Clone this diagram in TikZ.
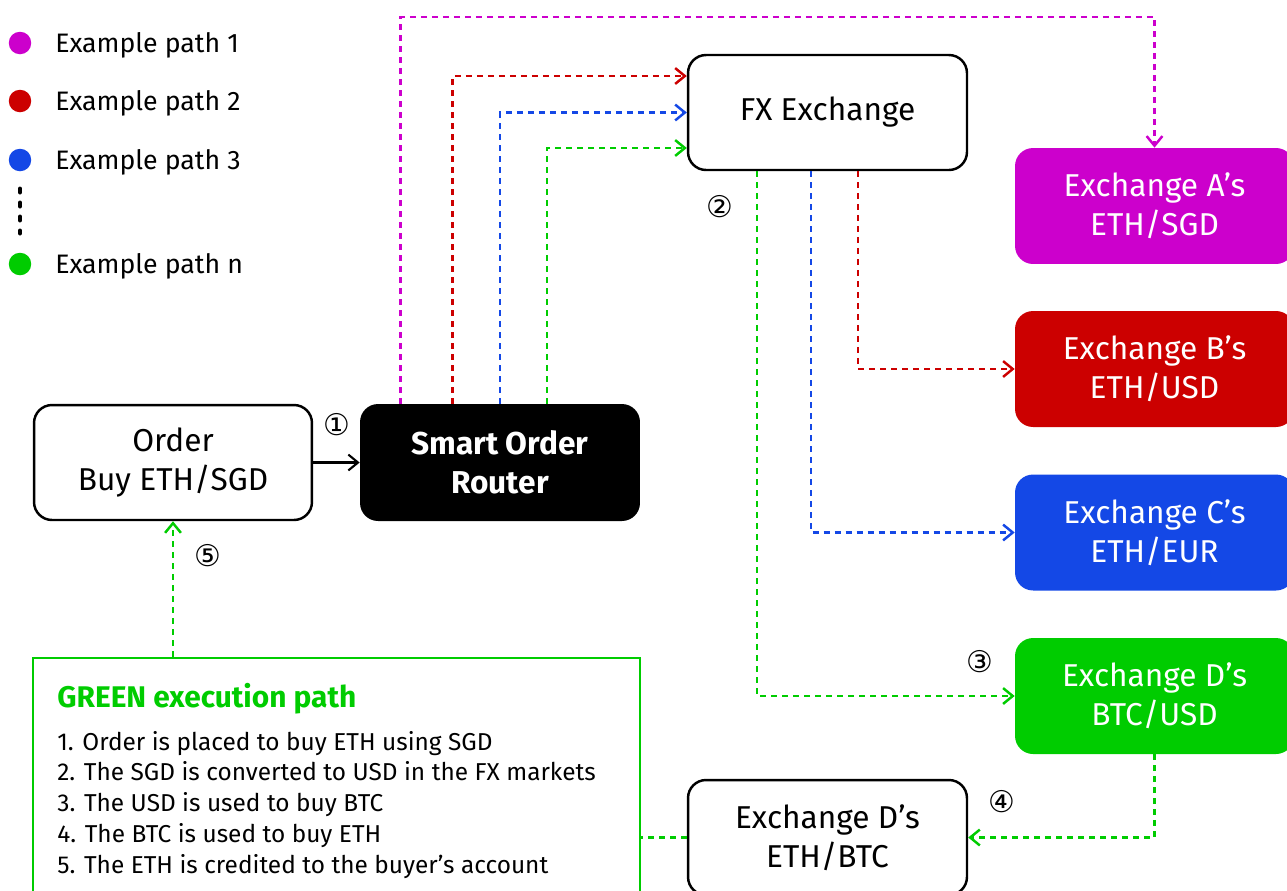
\documentclass[tikz,border=0pt]{standalone}
\usepackage{fontspec}
\setmainfont{Fira Sans}
\newfontfamily\circfont{DejaVu Sans}
\usetikzlibrary{arrows.meta}
\usetikzlibrary{positioning}
\definecolor{pathmag}{RGB}{204,0,204}
\definecolor{pathred}{RGB}{204,0,0}
\definecolor{pathblue}{RGB}{20,72,230}
\definecolor{pathgreen}{RGB}{0,204,0}

\tikzset{
  whitebox/.style={draw=black,fill=white,line width=1.4pt,rounded corners=0.36cm,
    minimum width=5.58cm,minimum height=2.3cm,align=center,
    font=\fontsize{18}{22}\selectfont},
  xbox/.style={fill=#1,rounded corners=0.36cm,minimum width=5.58cm,
    minimum height=2.32cm,align=center,text=white,
    font=\fontsize{18}{22}\selectfont},
  link/.style={draw=#1,line width=1.4pt,dash pattern=on 0.12cm off 0.1cm},
  legdot/.style={circle,fill=#1,minimum size=0.45cm,inner sep=0pt},
  legtext/.style={anchor=base west,inner sep=0pt,font=\fontsize{15.2}{18}\selectfont},
  circnum/.style={inner sep=0pt,font=\circfont\fontsize{17}{17}\selectfont},
  steptext/.style={anchor=base west,inner sep=0pt,font=\fontsize{13.9}{16}\selectfont}
}

\begin{document}
\begin{tikzpicture}[x=0.02cm,y=-0.02cm,>={Straight Barb[length=5.5pt,width=9pt]}]
\useasboundingbox (0,0) rectangle (1287,890);
% legend
\node[legdot=pathmag] (leg1) at (20,43) {};
\node[legdot=pathred] (leg2) at (20,101) {};
\node[legdot=pathblue] (leg3) at (20,160) {};
\node[legdot=pathgreen] (legn) at (20,264) {};
\node[legtext] (legtext1) at (55,52) {Example path 1};
\node[legtext] (legtext2) at (55,110) {Example path 2};
\node[legtext] (legtext3) at (55,169) {Example path 3};
\node[legtext] (legtextn) at (55,273) {Example path n};
\draw[line width=0.1cm,line cap=round,dash pattern=on 0.06cm off 0.22cm] (20,189) -- (20,233);
% boxes
\node[whitebox,minimum width=5.56cm] (order) at (173,462.5) {Order\\Buy ETH/SGD};
\node[xbox=black,minimum width=5.6cm,minimum height=2.34cm,font=\bfseries\fontsize{18}{22}\selectfont] (sor) at (500,462.5) {Smart Order\\Router};
\node[whitebox] (fx) at (827.5,112.5) {FX Exchange};
\node[xbox=pathmag] (exA) at (1154.5,206) {Exchange A’s\\ETH/SGD};
\node[xbox=pathred] (exB) at (1154.5,369) {Exchange B’s\\ETH/USD};
\node[xbox=pathblue] (exC) at (1154.5,532.5) {Exchange C’s\\ETH/EUR};
\node[xbox=pathgreen] (exD) at (1154.5,696) {Exchange D’s\\BTC/USD};
\node[whitebox] (ethbtc) at (827.5,837.5) {Exchange D’s\\ETH/BTC};
\node[draw=pathgreen,line width=1.3pt,minimum width=12.14cm,minimum height=4.84cm] (steps) at (336.5,779) {};
\node[anchor=base west,inner sep=0pt,text=pathgreen,font=\bfseries\fontsize{17}{18}\selectfont] (stepstitle) at (57,707) {GREEN execution path};
\node[steptext] (step1) at (57,750) {1. Order is placed to buy ETH using SGD};
\node[steptext] (step2) at (57,780) {2. The SGD is converted to USD in the FX markets};
\node[steptext] (step3) at (57,811) {3. The USD is used to buy BTC};
\node[steptext] (step4) at (57,842) {4. The BTC is used to buy ETH};
\node[steptext] (step5) at (57,873) {5. The ETH is credited to the buyer’s account};
% step numbers
\node[circnum] (num1) at (337,425) {①};
\node[circnum] (num2) at (720,207) {②};
\node[circnum] (num3) at (980,662) {③};
\node[circnum] (num4) at (1002,802) {④};
\node[circnum] (num5) at (208,556) {⑤};
% connectors
\draw[->,line width=1.2pt] (order.east) -- (sor.west);
\draw[link=pathmag,->] ([xshift=0.82cm]sor.north west) |- (800,17) -| (exA.north);
\draw[link=pathred,->] ([xshift=1.86cm]sor.north west) |- ([yshift=0.73cm]fx.west);
\draw[link=pathblue,->] (sor.north) |- (fx.west);
\draw[link=pathgreen,->] ([xshift=0.94cm]sor.north) |- ([yshift=-0.71cm]fx.west);
\draw[link=pathred,->] ([xshift=0.61cm]fx.south) |- (exB.west);
\draw[link=pathblue,->] ([xshift=-0.33cm]fx.south) |- (exC.west);
\draw[link=pathgreen,->] ([xshift=-1.41cm]fx.south) |- (exD.west);
\draw[link=pathgreen,->] (exD.south) |- (ethbtc.east);
\draw[link=pathgreen] (ethbtc.west) -- (ethbtc.west -| steps.east);
\draw[link=pathgreen,->] (order.south |- steps.north) -- (order.south);
\end{tikzpicture}
\end{document}
